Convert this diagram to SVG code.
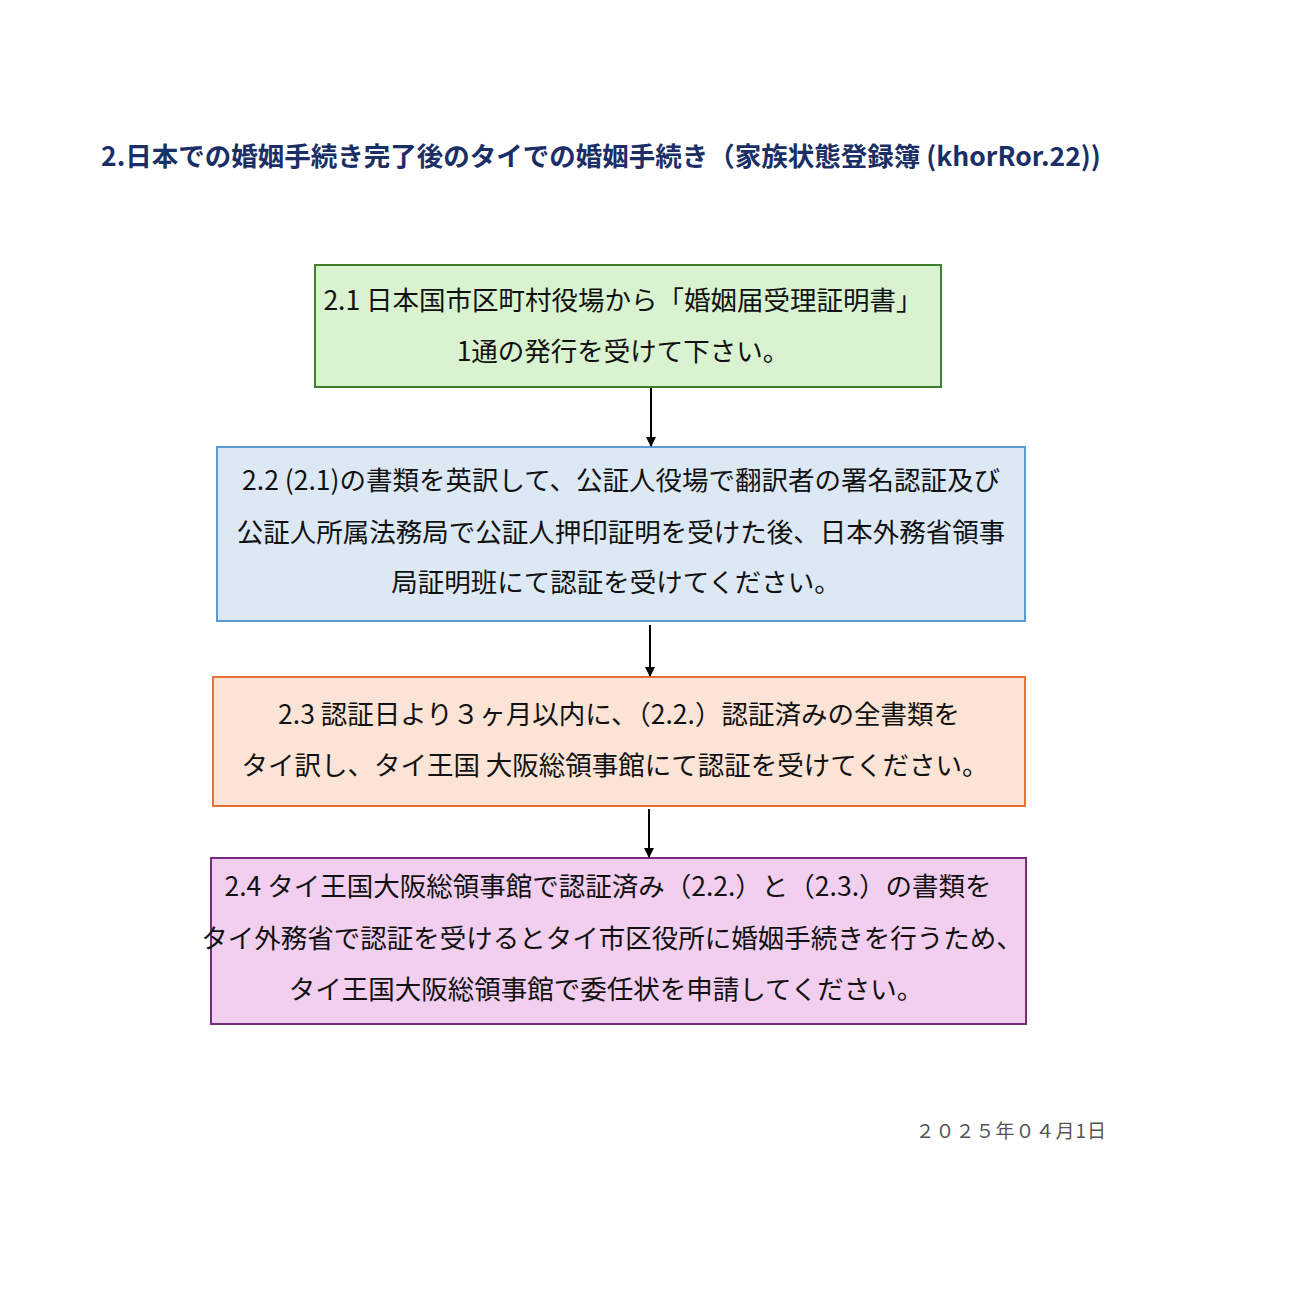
<svg xmlns="http://www.w3.org/2000/svg" width="1304" height="1289" viewBox="0 0 1304 1289">
<style>
.t{font-family:"Noto Sans CJK JP","Liberation Sans",sans-serif;font-size:26.5px;fill:#111;text-anchor:middle}
.b{stroke-width:2}
</style>
<defs><marker id="a" markerWidth="10" markerHeight="10" refX="9" refY="5" orient="auto" markerUnits="userSpaceOnUse"><path d="M0,0L10,5L0,10z" fill="#000"/></marker></defs>
<rect width="1304" height="1289" fill="#fff"/>
<text x="101" y="166" font-family="'Noto Sans CJK JP','Liberation Sans',sans-serif" font-size="26.5" font-weight="bold" fill="#1b2f66">2.日本での婚姻手続き完了後のタイでの婚姻手続き（家族状態登録簿 (khorRor.22))</text>
<g id="n1"><rect class="b" x="315" y="265" width="626" height="122" fill="#d9f2d0" stroke="#3f7f2a"/>
<text class="t" x="623" y="310">2.1 日本国市区町村役場から「婚姻届受理証明書」</text>
<text class="t" x="623" y="361">1通の発行を受けて下さい。</text></g>
<g id="n2"><rect class="b" x="217" y="447" width="808" height="174" fill="#dce9f5" stroke="#5b9bd5"/>
<text class="t" x="621" y="490">2.2 (2.1)の書類を英訳して、公証人役場で翻訳者の署名認証及び</text>
<text class="t" x="621" y="542">公証人所属法務局で公証人押印証明を受けた後、日本外務省領事</text>
<text class="t" x="616" y="592">局証明班にて認証を受けてください。</text></g>
<g id="n3"><rect class="b" x="213" y="677" width="812" height="129" fill="#fbe3d6" stroke="#e97132"/>
<text class="t" x="619" y="724">2.3 認証日より３ヶ月以内に、（2.2.）認証済みの全書類を</text>
<text class="t" x="615" y="775">タイ訳し、タイ王国  大阪総領事館にて認証を受けてください。</text></g>
<g id="n4"><rect class="b" x="211" y="858" width="815" height="166" fill="#f2ceef" stroke="#7a2a7a"/>
<text class="t" x="608" y="896">2.4 タイ王国大阪総領事館で認証済み（2.2.）と（2.3.）の書類を</text>
<text class="t" x="612" y="948">タイ外務省で認証を受けるとタイ市区役所に婚姻手続きを行うため、</text>
<text class="t" x="606" y="999">タイ王国大阪総領事館で委任状を申請してください。</text></g>
<g id="connectors" stroke="#000" stroke-width="2" fill="none">
<line x1="651" y1="388" x2="651" y2="446" marker-end="url(#a)"/>
<line x1="650" y1="625" x2="650" y2="676" marker-end="url(#a)"/>
<line x1="649" y1="809" x2="649" y2="857" marker-end="url(#a)"/>
</g>
<text x="1107" y="1138" text-anchor="end" font-family="'Noto Sans CJK JP','Liberation Sans',sans-serif" font-size="19" fill="#555" letter-spacing="1">２０２５年０４月1日</text>
</svg>
